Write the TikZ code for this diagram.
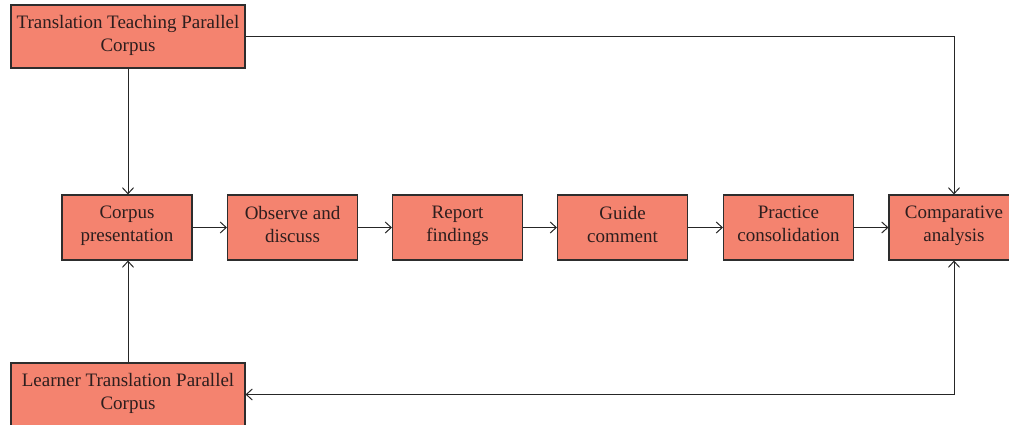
\documentclass[tikz,border=0pt]{standalone}
\usepackage{fontspec}
\setmainfont{Liberation Serif}
\usetikzlibrary{arrows.meta}
\definecolor{boxfill}{RGB}{244,131,111}
\definecolor{boxline}{RGB}{45,45,45}
\definecolor{txt}{RGB}{45,30,30}
\begin{document}
\begin{tikzpicture}[x=1pt,y=-1pt,
  box/.style={draw=boxline,line width=1.1pt,fill=boxfill,text=txt,align=center,
    inner sep=0pt,font=\fontsize{19}{23}\selectfont,
    execute at begin node={\rule{0pt}{21pt}}, execute at end node={\strut}},
  conn/.style={line width=1pt,draw=black!85,-{Straight Barb[length=6pt,width=11pt,line width=1pt]}},
  conn2/.style={line width=1pt,draw=black!85,{Straight Barb[length=6pt,width=11pt,line width=1pt]}-{Straight Barb[length=6pt,width=11pt,line width=1pt]}}]
\useasboundingbox (0,0) rectangle (1009,425);
\node[box,minimum width=234pt,minimum height=63pt] (ttpc) at (128,36.5) {Translation Teaching Parallel\\Corpus};
\node[box,minimum width=234pt,minimum height=63pt] (ltpc) at (128,394.5) {Learner Translation Parallel\\Corpus};
\node[box,minimum width=130pt,minimum height=65pt] (cp) at (127,227.5) {Corpus\\presentation};
\node[box,minimum width=130pt,minimum height=65pt] (od) at (292.5,227.5) {Observe and\\discuss};
\node[box,minimum width=130pt,minimum height=65pt] (rf) at (457.5,227.5) {Report\\findings};
\node[box,minimum width=130pt,minimum height=65pt] (gc) at (622.5,227.5) {Guide\\comment};
\node[box,minimum width=130pt,minimum height=65pt] (pc) at (788.5,227.5) {Practice\\consolidation};
\node[box,minimum width=130pt,minimum height=65pt] (ca) at (954,227.5) {Comparative\\analysis};
\coordinate (tr) at (954,36.5);
\coordinate (br) at (954,394.5);
\draw[conn] (ttpc.south) -- (ttpc.south |- cp.north);
\draw[conn] (ltpc.north) -- (ltpc.north |- cp.south);
\draw[conn] (cp) -- (od);
\draw[conn] (od) -- (rf);
\draw[conn] (rf) -- (gc);
\draw[conn] (gc) -- (pc);
\draw[conn] (pc) -- (ca);
\draw[conn] (ttpc.east) -- (tr) -- (ca.north);
\draw[conn2] (ca.south) -- (br) -- (ltpc.east);
\end{tikzpicture}
\end{document}
